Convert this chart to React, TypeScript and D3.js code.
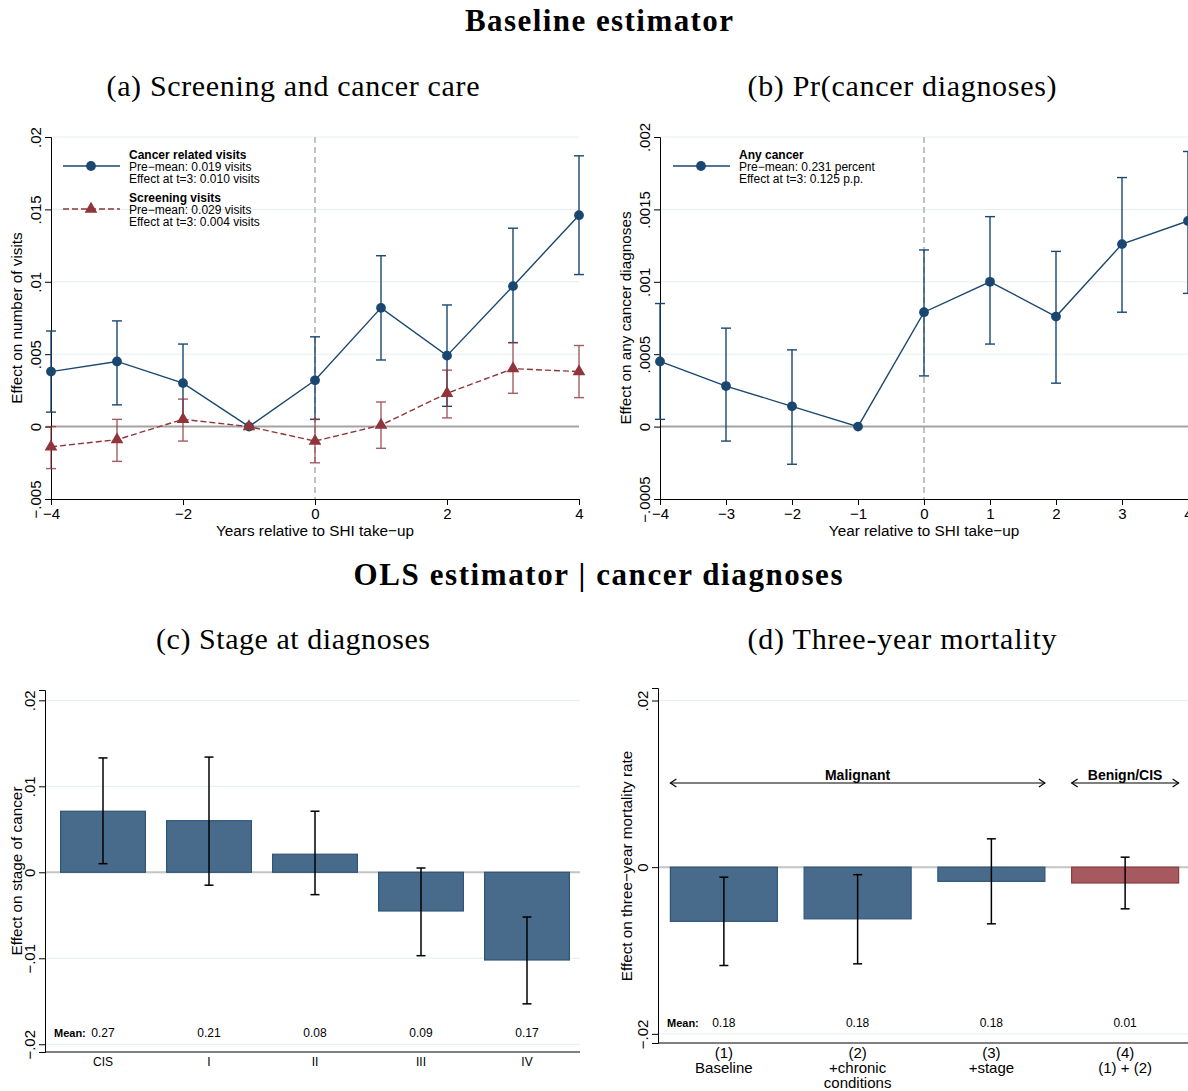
import React, { useEffect, useRef } from 'react';
import * as d3 from 'd3';

// event-study years
const years = [-4, -3, -2, -1, 0, 1, 2, 3, 4];

// (a) cancer related visits
const visitsEst = [0.0038, 0.0045, 0.003, 0, 0.0032, 0.0082, 0.0049, 0.0097, 0.0146];
const visitsLo = [0.001, 0.0015, 0.0003, 0, 0.0005, 0.0046, 0.0014, 0.0058, 0.0105];
const visitsHi = [0.0066, 0.0073, 0.0057, 0, 0.0062, 0.0118, 0.0084, 0.0137, 0.0187];

// (a) screening visits
const screenEst = [-0.0014, -0.0009, 0.0005, 0, -0.001, 0.0001, 0.0023, 0.004, 0.0038];
const screenLo = [-0.0029, -0.0024, -0.001, 0, -0.0025, -0.0015, 0.0006, 0.0023, 0.002];
const screenHi = [0.0, 0.0005, 0.0019, 0, 0.0005, 0.0017, 0.0039, 0.0058, 0.0056];

// (b) any cancer
const diagEst = [0.00045, 0.00028, 0.00014, 0, 0.00079, 0.001, 0.00076, 0.00126, 0.00142];
const diagLo = [0.00005, -0.0001, -0.00026, 0, 0.00035, 0.00057, 0.0003, 0.00079, 0.00092];
const diagHi = [0.00085, 0.00068, 0.00053, 0, 0.00122, 0.00145, 0.00121, 0.00172, 0.0019];

// (c) stage at diagnoses
const stages = ['CIS', 'I', 'II', 'III', 'IV'];
const stageEst = [0.0071, 0.006, 0.0021, -0.0045, -0.0102];
const stageLo = [0.001, -0.0015, -0.0026, -0.0097, -0.0153];
const stageHi = [0.0133, 0.0134, 0.0071, 0.0005, -0.0052];
const stageMeans = ['0.27', '0.21', '0.08', '0.09', '0.17'];

// (d) three-year mortality
const models = [['(1)', 'Baseline'], ['(2)', '+chronic', 'conditions'], ['(3)', '+stage'], ['(4)', '(1) + (2)']];
const mortEst = [-0.0065, -0.0062, -0.0017, -0.0019];
const mortLo = [-0.0118, -0.0116, -0.0068, -0.005];
const mortHi = [-0.0012, -0.0009, 0.0034, 0.0012];
const mortMeans = ['0.18', '0.18', '0.18', '0.01'];
const mortColors = ['blue', 'blue', 'blue', 'red'];

const ticksA = [-0.005, 0, 0.005, 0.01, 0.015, 0.02];
const labelsA = ['\u2212.005', '0', '.005', '.01', '.015', '.02'];
const ticksB = [-0.0005, 0, 0.0005, 0.001, 0.0015, 0.002];
const labelsB = ['\u2212.0005', '0', '.0005', '.001', '.0015', '.002'];
const ticksC = [-0.02, -0.01, 0, 0.01, 0.02];
const labelsC = ['\u2212.02', '\u2212.01', '0', '.01', '.02'];
const ticksD = [-0.02, 0, 0.02];
const labelsD = ['\u2212.02', '0', '.02'];

const BLUE = '#1a476f';
const RED = '#90353b';
const GRID = '#e6eef0';
const SANS = '"Liberation Sans", Arial, sans-serif';
const SERIF = '"Liberation Serif", "DejaVu Serif", serif';

function yAxis(g, y, x0, vals, labels) {
  const ax = g.append('g').attr('transform', `translate(${x0},0)`)
    .call(d3.axisLeft(y).tickValues(vals).tickFormat((d, i) => labels[i]).tickSizeOuter(0).tickSize(6));
  ax.attr('font-family', SANS).attr('font-size', 15);
  ax.select('.domain').attr('stroke', '#000');
  ax.selectAll('text').attr('transform', 'rotate(-90)').attr('x', 0).attr('y', -10)
    .attr('dy', 0).attr('text-anchor', 'middle').attr('fill', '#000');
  return ax;
}

function yTitle(g, x, y, text) {
  g.append('text').attr('transform', `translate(${x},${y}) rotate(-90)`)
    .attr('text-anchor', 'middle').attr('font-family', SANS).attr('font-size', 15.3).text(text);
}

function series(g, x, y, est, lo, hi, color, tri, dashed) {
  const ci = g.append('g').attr('stroke', color).attr('stroke-width', 1.4).attr('opacity', tri ? 0.8 : 1);
  years.forEach((yr, i) => {
    if (lo[i] === hi[i]) return;
    ci.append('line').attr('x1', x(yr)).attr('x2', x(yr)).attr('y1', y(lo[i])).attr('y2', y(hi[i]));
    ci.append('line').attr('x1', x(yr) - 5).attr('x2', x(yr) + 5).attr('y1', y(lo[i])).attr('y2', y(lo[i]));
    ci.append('line').attr('x1', x(yr) - 5).attr('x2', x(yr) + 5).attr('y1', y(hi[i])).attr('y2', y(hi[i]));
  });
  g.append('path').datum(est)
    .attr('d', d3.line<number>().x((d, i) => x(years[i])).y(d => y(d)))
    .attr('fill', 'none').attr('stroke', color).attr('stroke-width', 1.4)
    .attr('stroke-dasharray', dashed ? '6,3' : null);
  const sym = d3.symbol().type(tri ? d3.symbolTriangle : d3.symbolCircle).size(tri ? 70 : 75);
  g.selectAll(null).data(est).join('path')
    .attr('transform', (d, i) => `translate(${x(years[i])},${y(d)})`)
    .attr('d', sym()).attr('fill', color);
}

function legendItem(g, x0, yLine, color, tri, dashed, lines) {
  g.append('line').attr('x1', x0).attr('x2', x0 + 57).attr('y1', yLine).attr('y2', yLine)
    .attr('stroke', color).attr('stroke-width', 1.4).attr('stroke-dasharray', dashed ? '6,3' : null);
  const sym = d3.symbol().type(tri ? d3.symbolTriangle : d3.symbolCircle).size(tri ? 70 : 75);
  g.append('path').attr('transform', `translate(${x0 + 28},${yLine})`).attr('d', sym()).attr('fill', color);
  lines.forEach((t, i) => {
    g.append('text').attr('x', x0 + 66).attr('y', yLine - 7 + i * 12).attr('font-family', SANS)
      .attr('font-size', 12).attr('font-weight', i === 0 ? 'bold' : 'normal').text(t);
  });
}

function linePanel(svg, x0, x1, domain, tks, lbls, xTicks, xTitle, yTitleText) {
  const x = d3.scaleLinear().domain([-4, 4]).range([x0, x1]);
  const y = d3.scaleLinear().domain(domain).range([499, 137]);
  const g = svg.append('g');
  tks.filter(v => v > 0).forEach(v => {
    g.append('line').attr('x1', x0).attr('x2', x1).attr('y1', y(v)).attr('y2', y(v)).attr('stroke', GRID);
  });
  g.append('line').attr('x1', x0).attr('x2', x1).attr('y1', y(0)).attr('y2', y(0))
    .attr('stroke', '#a3a3a3').attr('stroke-width', 2);
  g.append('line').attr('x1', x(0)).attr('x2', x(0)).attr('y1', 137).attr('y2', 499)
    .attr('stroke', '#b0b0b0').attr('stroke-width', 1.5).attr('stroke-dasharray', '6,4');
  yAxis(g, y, x0, tks, lbls);
  const xa = g.append('g').attr('transform', 'translate(0,499)')
    .call(d3.axisBottom(x).tickValues(xTicks).tickSizeOuter(0).tickSize(6)
      .tickFormat(d => (+d < 0 ? '\u2212' + Math.abs(+d) : String(d))));
  xa.attr('font-family', SANS).attr('font-size', 15);
  xa.select('.domain').attr('stroke', '#000');
  xa.selectAll('text').attr('fill', '#000').attr('y', 9);
  g.append('text').attr('x', x(0)).attr('y', 536).attr('text-anchor', 'middle')
    .attr('font-family', SANS).attr('font-size', 15.3).text(xTitle);
  yTitle(g, x0 - 29, 318, yTitleText);
  return { g, x, y };
}

function barPanel(svg, ax0, r0, r1, domain, top, bottom, tks, lbls, est, lo, hi, means, fills) {
  const n = est.length;
  const xb = d3.scaleBand().domain(d3.range(n).map(String)).range([r0, r1]).paddingInner(0.2).paddingOuter(0.1);
  const y = d3.scaleLinear().domain(domain).range([bottom, top]);
  const g = svg.append('g');
  tks.filter(v => v !== 0).forEach(v => {
    g.append('line').attr('x1', ax0).attr('x2', r1).attr('y1', y(v)).attr('y2', y(v)).attr('stroke', GRID);
  });
  g.append('line').attr('x1', ax0).attr('x2', r1).attr('y1', y(0)).attr('y2', y(0))
    .attr('stroke', '#c4c4c4').attr('stroke-width', 2);
  g.selectAll(null).data(est).join('rect')
    .attr('x', (d, i) => xb(String(i)))
    .attr('width', xb.bandwidth())
    .attr('y', d => y(Math.max(0, d)))
    .attr('height', d => Math.abs(y(d) - y(0)))
    .attr('fill', (d, i) => (fills[i] === 'red' ? '#a65a5f' : '#486b8b'))
    .attr('stroke', (d, i) => (fills[i] === 'red' ? '#8e3b40' : '#2e5478'))
    .attr('stroke-width', 1.2);
  const ci = g.append('g').attr('stroke', '#000').attr('stroke-width', 1.5);
  est.forEach((d, i) => {
    const cx = xb(String(i)) + xb.bandwidth() / 2;
    ci.append('line').attr('x1', cx).attr('x2', cx).attr('y1', y(lo[i])).attr('y2', y(hi[i]));
    ci.append('line').attr('x1', cx - 4.5).attr('x2', cx + 4.5).attr('y1', y(lo[i])).attr('y2', y(lo[i]));
    ci.append('line').attr('x1', cx - 4.5).attr('x2', cx + 4.5).attr('y1', y(hi[i])).attr('y2', y(hi[i]));
  });
  yAxis(g, y, ax0, tks, lbls);
  g.append('line').attr('x1', ax0).attr('x2', r1).attr('y1', bottom).attr('y2', bottom).attr('stroke', '#000');
  g.append('text').attr('x', ax0 + 9).attr('y', y(-0.02) - 7).attr('font-family', SANS).attr('font-size', 11)
    .attr('font-weight', 'bold').text('Mean:');
  means.forEach((m, i) => {
    g.append('text').attr('x', xb(String(i)) + xb.bandwidth() / 2).attr('y', y(-0.02) - 7)
      .attr('text-anchor', 'middle').attr('font-family', SANS).attr('font-size', 12).text(m);
  });
  return { g, xb, y };
}

export default function App() {
  const ref = useRef<SVGSVGElement>(null);

  useEffect(() => {
    const svg = d3.select(ref.current);
    svg.selectAll('*').remove();

    const title = (x, yy, t, bold, size, len) =>
      svg.append('text').attr('x', x).attr('y', yy).attr('text-anchor', 'middle')
        .attr('font-family', SERIF).attr('font-size', size).attr('font-weight', bold ? 'bold' : 'normal')
        .attr('textLength', len).attr('lengthAdjust', 'spacing').text(t);

    title(599, 31, 'Baseline estimator', true, 31, 268);
    title(293, 96, '(a) Screening and cancer care', false, 30, 373);
    title(902, 96, '(b) Pr(cancer diagnoses)', false, 30, 309);
    title(598, 585, 'OLS estimator  |  cancer diagnoses', true, 31, 489);
    title(293, 649, '(c) Stage at diagnoses', false, 30, 274);
    title(902, 649, '(d) Three-year mortality', false, 30, 309);

    // (a)
    const pa = linePanel(svg, 51, 579, [-0.005, 0.02], ticksA, labelsA, [-4, -2, 0, 2, 4],
      'Years relative to SHI take\u2212up', 'Effect on number of visits');
    series(pa.g, pa.x, pa.y, visitsEst, visitsLo, visitsHi, BLUE, false, false);
    series(pa.g, pa.x, pa.y, screenEst, screenLo, screenHi, RED, true, true);
    legendItem(pa.g, 63, 166, BLUE, false, false,
      ['Cancer related visits', 'Pre\u2212mean: 0.019 visits', 'Effect at t=3: 0.010 visits']);
    legendItem(pa.g, 63, 209, RED, true, true,
      ['Screening visits', 'Pre\u2212mean: 0.029 visits', 'Effect at t=3: 0.004 visits']);

    // (b)
    const pb = linePanel(svg, 660, 1188, [-0.0005, 0.002], ticksB, labelsB, years,
      'Year relative to SHI take\u2212up', 'Effect on any cancer diagnoses');
    series(pb.g, pb.x, pb.y, diagEst, diagLo, diagHi, BLUE, false, false);
    legendItem(pb.g, 673, 166, BLUE, false, false,
      ['Any cancer', 'Pre\u2212mean: 0.231 percent', 'Effect at t=3: 0.125 p.p.']);

    // (c)
    const pc = barPanel(svg, 45, 50, 580, [-0.0209, 0.0212], 690, 1052, ticksC, labelsC,
      stageEst, stageLo, stageHi, stageMeans, stages.map(() => 'blue'));
    stages.forEach((s, i) => {
      pc.g.append('text').attr('x', pc.xb(String(i)) + pc.xb.bandwidth() / 2).attr('y', 1066)
        .attr('text-anchor', 'middle').attr('font-family', SANS).attr('font-size', 12).text(s);
    });
    yTitle(pc.g, 22, 871, 'Effect on stage of cancer');

    // (d)
    const pd = barPanel(svg, 658, 657, 1192, [-0.0211, 0.0215], 688, 1043, ticksD, labelsD,
      mortEst, mortLo, mortHi, mortMeans, mortColors);
    models.forEach((lines, i) => {
      lines.forEach((t, j) => {
        pd.g.append('text').attr('x', pd.xb(String(i)) + pd.xb.bandwidth() / 2).attr('y', 1058 + j * 15)
          .attr('text-anchor', 'middle').attr('font-family', SANS).attr('font-size', 15).text(t);
      });
    });
    yTitle(pd.g, 632, 866, 'Effect on three\u2212year mortality rate');

    // group arrows
    const arrow = (xa, xz, label) => {
      const ya = pd.y(0.0101);
      const ag = pd.g.append('g').attr('stroke', '#000').attr('stroke-width', 1.2).attr('fill', 'none');
      ag.append('line').attr('x1', xa).attr('x2', xz).attr('y1', ya).attr('y2', ya);
      ag.append('path').attr('d', `M${xa + 6},${ya - 4}L${xa},${ya}L${xa + 6},${ya + 4}`);
      ag.append('path').attr('d', `M${xz - 6},${ya - 4}L${xz},${ya}L${xz - 6},${ya + 4}`);
      pd.g.append('text').attr('x', (xa + xz) / 2).attr('y', ya - 3).attr('text-anchor', 'middle')
        .attr('font-family', SANS).attr('font-size', 14).attr('font-weight', 'bold').text(label);
    };
    arrow(pd.xb('0'), pd.xb('2') + pd.xb.bandwidth(), 'Malignant');
    arrow(pd.xb('3'), pd.xb('3') + pd.xb.bandwidth(), 'Benign/CIS');
  }, []);

  return (
    <svg ref={ref} width={1188} height={1091}
      style={{ position: 'absolute', left: 0, top: 0, background: '#fff' }} />
  );
}
